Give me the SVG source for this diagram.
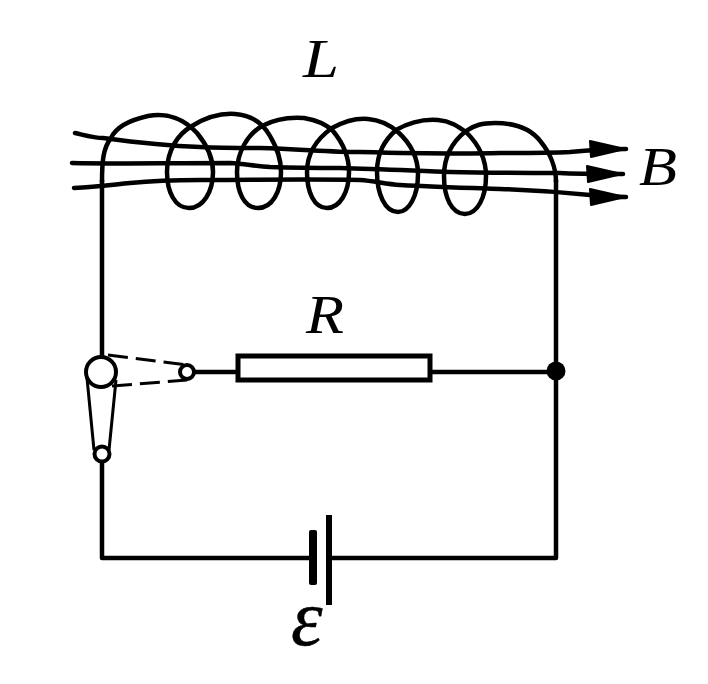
<svg xmlns="http://www.w3.org/2000/svg" width="708" height="684" viewBox="0 0 708 684">
<style>
.w{fill:none;stroke:#000;stroke-width:4.5;stroke-linecap:butt;stroke-linejoin:round}
.f{fill:none;stroke:#000;stroke-width:4.5;stroke-linecap:round}
.t{stroke:#000;stroke-width:3;fill:none}
.d{stroke:#000;stroke-width:3;fill:none;stroke-dasharray:20 8}
.c{fill:#fff;stroke:#000;stroke-width:4}
.l{font-family:"Liberation Serif",serif;font-style:italic;fill:#000}
</style>
<defs><marker id="a" markerUnits="userSpaceOnUse" markerWidth="44" markerHeight="24" refX="38" refY="12" orient="0"><path d="M2 4L3 20L37 12Z" fill="#000" stroke="#000" stroke-width="2" stroke-linejoin="round"/></marker></defs>
<rect width="708" height="684" fill="#fff"/>
<g id="connectors">
<path id="coil" class="w" d="M102 182C102 162 103 148 111 138C116 127 130 120 148 116C168 112 185 120 197 133C207 145 213 157 213 172C213 192 203 208 189 208C175 208 167 192 167 172C167 150 178 134 192 126C205 118 220 113 235 114C250 115 262 122 270 136C277 148 281 158 281 172C281 192 272 208 258 208C244 208 237 192 237 172C237 152 248 134 262 126C275 119 290 117 304 118C316 120 326 124 333 131C343 143 349 156 349 172C349 192 340 208 327 208C314 208 307 192 307 172C307 152 318 138 332 128C345 121 358 118 368 119C380 120 390 125 398 132C410 143 418 156 418 174C418 196 409 212 398 212C385 212 377 194 377 172C377 152 385 140 396 130C410 122 425 119 438 120C450 121 458 126 467 133C477 143 486 158 486 176C486 198 477 214 465 214C452 214 444 198 444 176C444 156 452 142 466 131C475 125 482 123 495 123C512 123 530 127 541 142C550 153 556 168 556 182"/>
<path class="f" d="M75 133C88 136 95 138 103 138C140 143 170 146 200 147C220 148 240 148 260 148C300 149 330 152 360 152C400 153 460 154 500 153C530 153 550 153 570 152C590 150 610 149 626 149" marker-end="url(#a)"/>
<path class="f" d="M72 163C110 164 160 163 230 163C245 164 255 166 270 167C300 168 320 168 340 168C380 169 420 171 450 172C490 173 530 173 560 173C575 174 600 174 623 174" marker-end="url(#a)"/>
<path class="f" d="M74 188C95 187 110 185 130 183C150 181 175 180 200 180C250 180 310 179 360 180C375 181 385 184 400 185C435 187 470 188 500 189C530 190 560 192 590 195C600 196 615 197 626 197" marker-end="url(#a)"/>
<path class="w" d="M102 180V357M102 462V558H312M328 558H556V180"/>
<path class="w" d="M195 372H237M431 372H556"/>
<path class="t" d="M87 378L94 450M116 380L109 450"/>
<path class="d" d="M108 355L187 365M112 386L187 380"/>
</g>
<g id="switch-pivot"><circle class="c" cx="101" cy="372" r="15"/></g>
<g id="switch-contact-lower"><circle class="c" cx="102" cy="454" r="7.500"/></g>
<g id="switch-contact-right"><circle class="c" cx="187" cy="372" r="7"/></g>
<g id="resistor"><rect x="238" y="356" width="192" height="24" fill="#fff" stroke="#000" stroke-width="5"/></g>
<g id="junction"><circle cx="556" cy="371" r="9.500" fill="#000"/></g>
<g id="battery">
<rect x="309" y="530" width="8" height="55" rx="2" fill="#000"/>
<rect x="326" y="515" width="6" height="90" fill="#000"/>
</g>
<g id="labels">
<text class="l" x="303" y="77" font-size="54" textLength="36" lengthAdjust="spacingAndGlyphs">L</text>
<text class="l" x="306" y="333" font-size="54" textLength="38" lengthAdjust="spacingAndGlyphs">R</text>
<text class="l" x="639" y="185" font-size="54" textLength="38" lengthAdjust="spacingAndGlyphs">B</text>
<text class="l" x="291" y="645" font-size="80" stroke="#000" stroke-width="0.400">ε</text>
</g>
</svg>
